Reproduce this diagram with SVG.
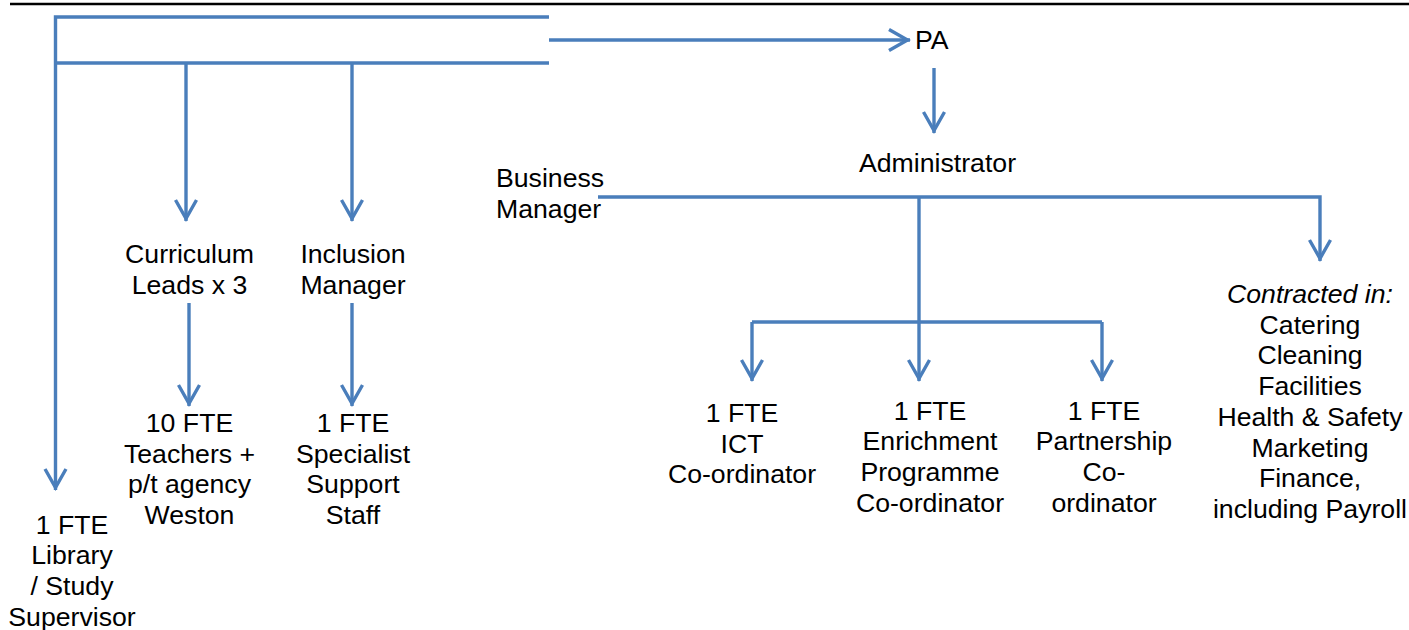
<svg xmlns="http://www.w3.org/2000/svg" width="1409" height="630" viewBox="0 0 1409 630">
<style>
text{font-family:"Liberation Sans",Arial,sans-serif;font-size:26.67px;fill:#000}
.c{text-anchor:middle}
.ln{fill:none;stroke:#4A7EBB;stroke-width:3.4}
.ar{marker-end:url(#arr)}
</style>
<defs>
<marker id="arr" markerUnits="userSpaceOnUse" markerWidth="30" markerHeight="30" viewBox="-25 -15 30 30" refX="0" refY="0" orient="auto" overflow="visible">
<path d="M-21,-10.5 L-2.5,0 L-21,10.5" fill="none" stroke="#4A7EBB" stroke-width="3.4"/>
</marker>
</defs>
<rect width="1409" height="630" fill="#fff"/>
<line x1="10" y1="4" x2="1409" y2="4" stroke="#000" stroke-width="2.5"/>
<g id="connectors">
<path class="ln ar" d="M549,17 H55.5 V490"/>
<path class="ln" d="M55.5,63 H549"/>
<path class="ln ar" d="M549,40 H910"/>
<path class="ln ar" d="M186,63 V221"/>
<path class="ln ar" d="M352,63 V221"/>
<path class="ln ar" d="M189,303 V406"/>
<path class="ln ar" d="M352,303 V406"/>
<path class="ln ar" d="M934,68 V133"/>
<path class="ln ar" d="M598,197 H1320 V261"/>
<path class="ln ar" d="M919,197 V381"/>
<path class="ln" d="M752,322 H1102"/>
<path class="ln ar" d="M752,322 V381"/>
<path class="ln ar" d="M1102,322 V381"/>
</g>
<g id="pa"><text x="915" y="49">PA</text></g>
<g id="administrator"><text class="c" x="937.5" y="172">Administrator</text></g>
<g id="business-manager"><text x="496" y="187">Business</text><text x="496" y="217.5">Manager</text></g>
<g id="curriculum-leads"><text class="c" x="189.5" y="263">Curriculum</text><text class="c" x="189.5" y="293.5">Leads x 3</text></g>
<g id="inclusion-manager"><text class="c" x="353" y="263">Inclusion</text><text class="c" x="353" y="293.5">Manager</text></g>
<g id="teachers"><text class="c" x="189.5" y="432">10 FTE</text><text class="c" x="189.5" y="462.7">Teachers +</text><text class="c" x="189.5" y="493.4">p/t agency</text><text class="c" x="189.5" y="524">Weston</text></g>
<g id="specialist"><text class="c" x="353" y="432">1 FTE</text><text class="c" x="353" y="462.7">Specialist</text><text class="c" x="353" y="493.4">Support</text><text class="c" x="353" y="524">Staff</text></g>
<g id="library"><text class="c" x="72" y="533.5">1 FTE</text><text class="c" x="72" y="564.2">Library</text><text class="c" x="72" y="594.9">/ Study</text><text class="c" x="72" y="625.6">Supervisor</text></g>
<g id="ict"><text class="c" x="742" y="422">1 FTE</text><text class="c" x="742" y="452.7">ICT</text><text class="c" x="742" y="483.4">Co-ordinator</text></g>
<g id="enrichment"><text class="c" x="930" y="419.5">1 FTE</text><text class="c" x="930" y="450.2">Enrichment</text><text class="c" x="930" y="480.9">Programme</text><text class="c" x="930" y="511.6">Co-ordinator</text></g>
<g id="partnership"><text class="c" x="1104" y="419.5">1 FTE</text><text class="c" x="1104" y="450.2">Partnership</text><text class="c" x="1104" y="480.9">Co-</text><text class="c" x="1104" y="511.6">ordinator</text></g>
<g id="contracted"><text class="c" x="1310" y="303" font-style="italic">Contracted in:</text><text class="c" x="1310" y="333.7">Catering</text><text class="c" x="1310" y="364.4">Cleaning</text><text class="c" x="1310" y="395.1">Facilities</text><text class="c" x="1310" y="425.8">Health &amp; Safety</text><text class="c" x="1310" y="456.5">Marketing</text><text class="c" x="1310" y="487.2">Finance,</text><text class="c" x="1310" y="517.9">including Payroll</text></g>
</svg>
